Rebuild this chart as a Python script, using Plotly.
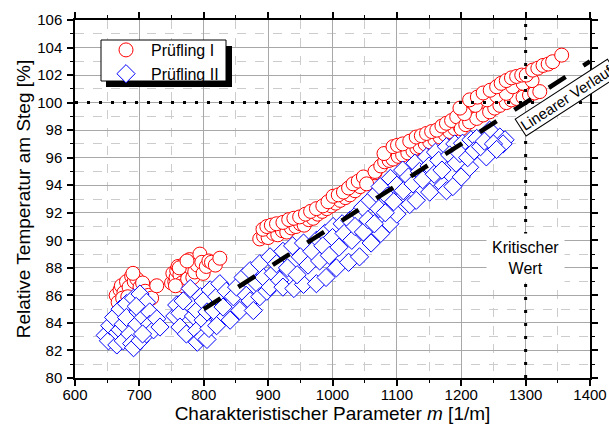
import plotly.graph_objects as go

# ---------------- data ----------------
red_x = [
    # cluster A
    664, 667, 670, 672, 676, 680, 684, 688, 692, 696, 690, 701, 705, 709, 714, 719, 727, 674, 682,
    # cluster B
    750, 752, 755, 757, 758, 760, 763, 766, 768, 770, 772, 775, 778, 780, 783, 786, 790, 794, 797, 799,
    804, 808, 812, 818, 825, 762, 774, 756,
    # band 1 lower
    887, 893, 900, 908, 915, 922, 929, 936, 943, 950, 956, 963, 970, 977, 984, 991, 998, 1005, 1012,
    1020, 1027, 1035, 1043, 1052, 1060, 1066,
    # band 1 upper
    892, 898, 905, 913, 923, 932, 940, 949, 958, 966, 975, 985, 993, 1001, 1009, 1017, 1025, 1032,
    1040, 1048,
    # band 2 lower
    1053, 1066, 1075, 1081, 1088, 1094, 1102, 1109, 1117, 1125, 1131, 1136, 1144, 1151, 1159, 1167,
    1175, 1182, 1190, 1198, 1208, 1218,
    # band 2 upper
    1080, 1094, 1101, 1109, 1120, 1130, 1138, 1146, 1154, 1162, 1170, 1177, 1185, 1193, 1202, 1210, 1218,
    # band 3 lower
    1200, 1207, 1213, 1224, 1234, 1244, 1252, 1260, 1270, 1278, 1286, 1296, 1306, 1314, 1322,
    # band 3 middle
    1205, 1222, 1240, 1255, 1270, 1280, 1296, 1310,
    # band 3 upper
    1198, 1213, 1225, 1234, 1245, 1255, 1262, 1270, 1278, 1286, 1294, 1301, 1311, 1319, 1327, 1335,
    1342, 1356,
]
red_y = [
    86.0, 85.5, 86.4, 86.7, 86.2, 87.0, 86.6, 87.4, 87.0, 87.2, 87.6, 86.6, 86.9, 86.3, 86.0, 85.8, 86.7, 85.8, 85.9,
    86.9, 87.6, 87.0, 87.3, 87.8, 88.1, 87.5, 86.9, 86.7, 88.3, 87.8, 87.2, 88.6, 88.0, 87.3, 87.7, 88.2, 89.0, 88.4, 87.6,
    88.1, 88.5, 88.4, 88.2, 88.7, 88.0, 88.5, 86.7,
    90.1, 90.3, 90.2, 90.5, 90.4, 90.7, 90.6, 90.9, 91.0, 91.2, 91.1, 91.5, 91.6, 91.9, 92.1, 92.3, 92.5, 92.7, 92.9,
    93.1, 93.3, 93.6, 93.9, 94.3, 94.5, 94.9,
    90.8, 91.0, 91.1, 91.2, 91.3, 91.5, 91.6, 91.7, 91.9, 92.1, 92.3, 92.5, 92.8, 93.2, 93.3, 93.5, 93.8, 94.1,
    94.3, 94.6,
    94.1, 95.0, 95.4, 95.7, 95.8, 95.9, 96.1, 96.2, 96.35, 96.5, 96.7, 96.8, 97.0, 97.15, 97.3, 97.5,
    97.7, 97.9, 98.1, 98.24, 98.7, 99.45,
    96.3, 96.8, 96.9, 97.0, 97.2, 97.5, 97.6, 97.76, 97.9, 98.0, 98.3, 98.5, 98.7, 98.97, 99.45, 99.6, 99.9,
    98.1, 98.4, 98.6, 98.85, 99.1, 99.33, 99.6, 99.8, 100.0, 100.2, 100.3, 100.4, 100.55, 100.7, 100.8,
    99.2, 99.8, 100.2, 100.5, 100.67, 101.15, 101.4, 101.6,
    99.6, 100.2, 100.4, 100.7, 100.9, 101.15, 101.4, 101.6, 101.8, 101.9, 102.0, 102.0, 102.36, 102.5, 102.7, 102.8,
    102.97, 103.45,
]

blue_x = [
    # cluster A
    647, 652, 654, 660, 665, 666, 670, 670, 675, 675, 680, 680, 685, 688, 691, 691, 696, 698, 701, 701,
    706, 711, 711, 716, 716, 722, 727, 732, 705, 695,
    # cluster B
    755, 758, 763, 763, 768, 773, 779, 784, 789, 789, 790, 795, 799, 799, 799, 805, 805, 808, 810, 815,
    820, 820, 825, 830, 835, 841, 846, 851, 856, 861, 866, 872, 872, 877, 882, 887, 887, 893, 898, 903,
    903, 908, 913, 918,
    # band upper edge
    923, 938, 955, 975, 988, 1001, 1015, 1027, 1040, 1047, 1058, 1068, 1074, 1090, 1109, 1128, 1146, 1160,
    1177, 1190, 1202, 1215, 1224, 1244, 1260, 1268,
    # band lower edge
    923, 940, 955, 975, 990, 1006, 1025, 1042, 1060, 1075, 1089, 1100, 1120, 1130, 1151, 1172, 1177, 1187,
    1200, 1213, 1239, 1265,
    # band middle
    930, 945, 950, 962, 968, 980, 985, 995, 1000, 1010, 1018, 1030, 1035, 1048, 1055, 1065, 1072, 1082,
    1085, 1095, 1100, 1110, 1118, 1125, 1135, 1140, 1150, 1158, 1165, 1170, 1182, 1192, 1198, 1210,
    1220, 1230, 1236, 1250, 1255,
]
blue_y = [
    83.1, 82.7, 83.8, 84.4, 82.4, 83.3, 85.0, 83.5, 82.7, 83.9, 85.4, 84.4, 83.2, 82.5, 85.8, 82.2, 83.9, 84.8, 86.1, 82.7,
    84.4, 85.5, 83.2, 84.8, 83.9, 83.5, 84.3, 83.7, 83.2, 85.2,
    84.5, 85.3, 84.7, 83.7, 85.6, 83.2, 86.5, 84.5, 83.45, 84.9, 82.6, 85.9, 84.2, 85.6, 83.0, 84.8, 82.8, 83.6, 86.4, 84.9,
    85.9, 83.8, 86.85, 85.15, 86.3, 84.2, 85.9, 86.6, 84.9, 87.3, 86.0, 87.8, 85.6, 84.9, 86.9, 88.3, 85.9, 87.3, 86.3, 88.8,
    86.6, 87.6, 88.3, 87.1,
    89.2, 89.6, 89.8, 90.0, 90.5, 91.0, 91.2, 91.45, 92.0, 92.4, 92.9, 93.4, 93.9, 94.5, 95.1, 95.6, 96.06, 96.4,
    96.8, 97.0, 97.05, 97.3, 97.4, 98.0, 97.5, 97.3,
    86.6, 86.5, 86.8, 86.85, 87.3, 88.0, 88.4, 88.8, 89.8, 90.5, 91.2, 91.9, 92.6, 92.9, 93.5, 94.0, 93.6, 93.9,
    94.6, 95.3, 96.06, 97.0,
    88.0, 87.5, 88.8, 88.2, 89.2, 88.5, 89.6, 88.9, 90.2, 89.5, 90.5, 90.0, 91.0, 90.6, 91.5, 91.2, 92.3, 92.0,
    93.2, 92.8, 94.0, 93.6, 94.6, 94.1, 95.0, 94.4, 95.4, 94.8, 95.8, 95.1, 96.2, 95.6, 96.3, 96.0,
    96.5, 96.8, 97.2, 97.0, 96.6,
]

lin_x = [800, 1400]
lin_y = [85, 103]
crit_x = 1300
ref_y = 100

x_range = [600, 1400]
y_range = [80, 106]

FONT = "Liberation Sans, Arial, sans-serif"

# plot-area geometry in pixels (for paper-coordinate placement of the legend frame)
W, H = 609, 425
ML, MR, MT, MB = 75, 19, 20, 47
PW, PH = W - ML - MR, H - MT - MB


def px2paper(px, py):
    return (px - ML) / PW, 1 - (py - MT) / PH


fig = go.Figure()
fig.add_trace(go.Scatter(
    x=red_x, y=red_y, mode="markers", name="Prüfling I",
    marker=dict(symbol="circle", size=14, color="white", line=dict(color="#ff0000", width=1)),
))
fig.add_trace(go.Scatter(
    x=blue_x, y=blue_y, mode="markers", name="Prüfling II",
    marker=dict(symbol="diamond", size=14, color="white", line=dict(color="#0000ff", width=1)),
))
fig.add_trace(go.Scatter(
    x=lin_x, y=lin_y, mode="lines", showlegend=False, hoverinfo="skip",
    line=dict(color="black", width=4.5, dash="20px,21px"),
))

# reference dotted lines
fig.add_shape(type="line", xref="x", yref="y", x0=x_range[0], x1=x_range[1], y0=ref_y, y1=ref_y,
              line=dict(color="black", width=3, dash="3px,9px"), layer="above")
fig.add_shape(type="line", xref="x", yref="y", x0=crit_x, x1=crit_x, y0=y_range[0], y1=y_range[1],
              line=dict(color="black", width=3, dash="3px,10px"), layer="above")

# legend frame: shadow + white box with black border
sx0, sy1 = px2paper(106, 46)
sx1, sy0 = px2paper(232, 87)
fig.add_shape(type="rect", xref="paper", yref="paper", x0=sx0, x1=sx1, y0=sy0, y1=sy1,
              fillcolor="black", line=dict(width=0), layer="above")
bx0, by1 = px2paper(101, 40)
bx1, by0 = px2paper(226, 81)
fig.add_shape(type="rect", xref="paper", yref="paper", x0=bx0, x1=bx1, y0=by0, y1=by1,
              fillcolor="white", line=dict(color="black", width=1), layer="above")

fig.add_annotation(x=crit_x, y=88.7, xref="x", yref="y", text="Kritischer<br>Wert",
                   showarrow=False, bgcolor="white", borderpad=5,
                   font=dict(family=FONT, size=16, color="black"))
fig.add_annotation(x=1364, y=100.4, xref="x", yref="y", text="Linearer Verlauf",
                   showarrow=False, bgcolor="white", bordercolor="black", borderwidth=1, borderpad=1,
                   textangle=-33, font=dict(family=FONT, size=15, color="black"))

axis_common = dict(
    showline=True, linecolor="black", linewidth=1.5, mirror="allticks",
    ticks="outside", ticklen=6, tickwidth=1.5, tickcolor="black",
    showgrid=True, gridcolor="#a8a8a8", gridwidth=1, zeroline=False, automargin=False,
    tickfont=dict(family=FONT, size=15, color="black"),
)
fig.update_xaxes(
    range=x_range, tick0=600, dtick=100, **axis_common, ticklabelstandoff=-4,
    minor=dict(dtick=50, ticks="outside", ticklen=3, tickwidth=1, tickcolor="black",
               showgrid=True, gridcolor="#cccccc", griddash="dash", gridwidth=1),
    title=dict(text="Charakteristischer Parameter <i>m</i> [1/m]",
               font=dict(family=FONT, size=19, color="black"), standoff=2),
)
fig.update_yaxes(
    range=y_range, tick0=80, dtick=2, **axis_common, ticklabelstandoff=2,
    minor=dict(dtick=1, ticks="outside", ticklen=3, tickwidth=1, tickcolor="black",
               showgrid=True, gridcolor="#cccccc", griddash="dash", gridwidth=1),
    title=dict(text="Relative Temperatur am Steg [%]",
               font=dict(family=FONT, size=19, color="black"), standoff=2),
)

lx, ly = px2paper(101, 33)
fig.update_layout(
    width=W, height=H,
    margin=dict(l=ML, r=MR, t=MT, b=MB),
    plot_bgcolor="white", paper_bgcolor="white",
    font=dict(family=FONT, color="black"),
    legend=dict(x=lx, y=ly, xanchor="left", yanchor="top",
                bgcolor="rgba(0,0,0,0)", borderwidth=0,
                itemwidth=40, font=dict(family=FONT, size=16, color="black"),
                tracegroupgap=0),
    showlegend=True,
)

fig.write_html("out.html", config={"displayModeBar": False},
               post_script="document.body.style.margin='0';document.body.style.padding='0';")
